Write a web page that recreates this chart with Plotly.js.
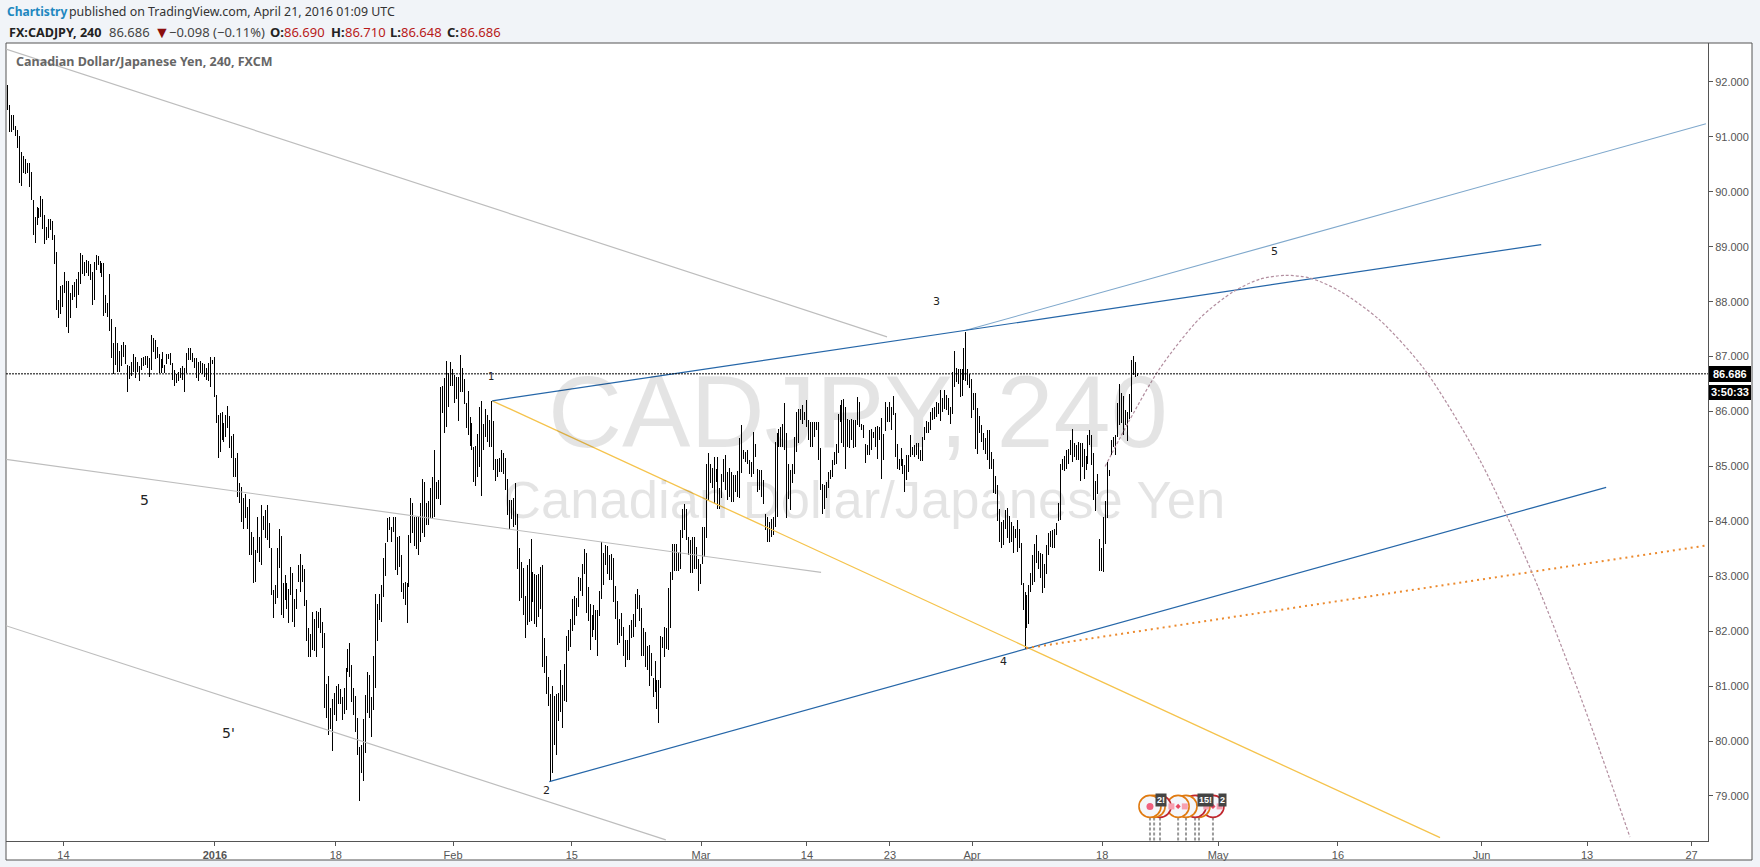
<!DOCTYPE html>
<html>
<head>
<meta charset="utf-8">
<script src="https://cdn.plot.ly/plotly-3.0.1.min.js"></script>
<style>
html,body{margin:0;padding:0;background:#f1f4f8;overflow:hidden}
#chart{width:1760px;height:867px}
.ohlc path{shape-rendering:crispEdges}
</style>
</head>
<body>
<div id="chart"></div>
<script>
// 4-hour bars of CAD/JPY, in order (x is the bar number)
const barHighs = [
91.95,91.58,91.40,91.40,91.20,91.13,91.02,90.73,90.65,90.60,
90.52,90.52,90.36,89.85,89.54,89.72,89.70,89.92,89.87,89.58,
89.36,89.50,89.50,89.47,89.21,88.90,88.03,88.28,88.30,88.54,
88.37,88.37,88.16,88.30,88.36,88.41,88.54,88.89,88.85,88.72,
88.76,88.74,88.68,88.54,88.72,88.85,88.83,88.74,88.70,88.70,
88.12,87.97,88.50,87.68,87.25,87.54,87.25,87.10,87.22,87.27,
87.22,86.85,86.82,86.90,87.05,87.00,86.90,86.82,86.97,87.00,
87.02,87.02,86.97,87.40,87.33,87.30,87.17,87.05,86.95,87.08,
86.84,87.05,87.05,87.07,86.89,86.76,86.68,86.72,86.79,86.82,
86.79,87.07,87.15,87.15,87.07,86.97,86.97,86.90,86.92,86.88,
86.87,86.79,86.88,87.00,86.93,87.00,86.30,85.93,85.97,86.00,
85.80,85.93,86.10,85.92,85.55,85.59,85.15,85.25,84.70,84.62,
84.42,84.50,84.26,84.40,83.80,83.71,83.48,84.08,83.71,84.30,
84.09,84.20,84.30,83.97,83.51,82.75,82.85,83.51,83.87,83.73,
82.87,83.03,82.87,82.76,83.17,83.06,82.59,82.76,83.20,83.40,
83.20,83.14,82.57,82.05,81.95,82.35,82.22,82.36,82.35,82.42,
82.17,81.97,81.03,81.18,80.60,80.77,80.88,81.00,81.03,80.94,
80.80,80.96,81.33,81.67,81.78,81.38,80.96,80.82,80.42,79.90,
79.92,80.40,80.84,81.25,81.20,80.80,81.55,82.67,82.49,82.67,
82.85,83.33,83.60,84.06,84.08,83.90,84.08,84.08,83.71,83.73,
83.38,82.87,82.89,82.87,83.75,84.42,84.33,84.08,84.08,84.08,
84.33,84.77,84.71,84.33,84.37,84.60,84.80,85.30,84.71,84.75,
86.45,86.46,86.61,86.92,86.70,86.90,86.77,86.67,86.63,86.63,
87.03,86.79,86.59,86.15,86.37,85.90,85.79,
85.36,85.37,85.59,86.09,86.19,85.78,86.04,85.94,85.84,86.19,
85.82,85.14,85.13,85.16,85.30,85.24,85.16,84.78,84.39,84.39,
84.42,84.69,84.14,83.52,83.26,83.15,82.64,83.20,83.31,83.67,
83.07,83.05,83.02,83.04,83.17,83.20,81.88,81.54,81.17,80.85,
81.00,80.82,80.85,80.88,81.30,81.02,81.41,81.91,82.02,82.22,
82.58,82.64,82.60,82.98,82.96,83.22,83.49,83.43,82.80,82.49,
82.29,82.47,82.38,82.39,82.73,83.63,83.43,83.57,83.55,83.38,
83.40,83.34,82.82,82.55,82.23,82.33,82.08,81.84,81.84,82.11,
82.21,82.32,82.67,82.76,82.66,82.43,82.05,81.99,81.73,81.75,
81.60,81.14,81.46,81.12,81.11,81.91,81.90,82.08,82.05,82.78,83.08,
83.58,83.58,83.58,83.44,83.85,84.23,84.31,84.23,83.72,83.66,
83.72,83.72,83.54,83.32,83.22,83.89,83.89,85.05,85.25,85.05,
84.98,85.17,84.96,85.17,84.60,84.87,85.14,85.20,84.90,84.98,
84.90,84.84,84.84,84.92,85.51,85.75,85.30,85.27,85.30,85.11,
85.08,85.63,85.41,84.96,84.93,84.93,84.75,84.14,84.08,83.99,
84.05,84.08,85.45,85.60,85.69,85.71,85.78,86.15,85.60,85.05,
84.93,85.05,85.53,86.00,86.04,86.05,86.12,86.00,86.21,85.84,
85.81,85.81,85.81,85.81,85.81,85.33,84.68,84.66,84.72,84.90,
84.93,85.11,85.27,85.40,85.96,86.11,86.21,86.22,86.09,85.87,
85.84,85.87,85.84,85.84,86.26,86.18,85.78,85.75,85.41,85.39,
85.66,85.69,85.63,85.72,85.73,85.72,85.89,85.59,86.18,86.09,
86.18,86.09,86.28,85.98,85.41,85.14,85.33,85.14,85.02,85.21,
85.21,85.57,85.36,85.39,85.42,85.42,
85.30,85.54,85.72,85.82,85.81,85.99,86.07,86.09,86.17,86.15,
86.39,86.24,86.39,86.30,86.24,86.09,86.72,87.10,86.80,86.77,
86.77,86.77,87.15,87.45,86.77,86.69,86.60,86.33,86.34,86.06,
85.92,85.75,85.60,85.51,85.66,85.67,85.27,85.13,84.82,84.66,
84.22,83.99,84.03,84.20,84.25,84.09,83.99,83.91,83.87,84.02,
83.87,83.60,82.87,82.72,82.66,82.84,83.06,83.38,83.59,83.75,
83.46,83.43,83.40,83.23,83.57,83.79,83.83,83.85,83.87,83.97,
84.33,85.05,85.13,85.19,85.30,85.31,85.48,85.69,85.42,85.39,
85.45,85.42,85.42,85.31,85.19,85.57,85.66,85.57,85.24,84.74,
84.86,83.67,83.51,84.08,84.37,85.08,84.93,85.49,85.54,85.57,
86.15,86.51,86.33,86.28,86.03,86.00,86.32,86.94,87.01,86.91,86.71
];
const barLows = [
91.49,91.09,91.09,91.13,91.02,90.80,90.16,90.11,90.34,90.32,
90.34,90.09,89.85,89.21,89.07,89.39,89.52,89.54,89.32,89.05,
89.12,89.16,89.30,89.12,88.68,87.85,87.70,87.77,87.90,88.16,
87.54,87.43,87.70,88.03,88.08,87.88,88.12,88.32,88.50,88.47,
88.52,88.47,88.39,87.94,88.03,88.58,88.67,88.52,88.45,87.74,
87.79,87.72,87.46,86.97,86.68,86.85,86.72,86.72,86.82,87.00,
86.87,86.35,86.60,86.65,86.72,86.61,86.72,86.55,86.75,86.82,
86.85,86.79,86.63,86.75,87.08,86.95,86.97,86.70,86.70,86.79,
86.70,86.87,86.95,86.85,86.58,86.46,86.52,86.55,86.61,86.58,
86.35,86.70,86.93,86.93,86.90,86.79,86.61,86.55,86.70,86.68,
86.63,86.58,86.55,86.45,86.87,86.27,85.80,85.15,85.26,85.48,
85.44,85.53,85.70,85.33,85.15,84.80,84.80,84.44,84.33,83.98,
83.87,84.06,83.87,83.38,83.38,82.87,82.89,83.42,83.26,83.20,
83.84,83.69,83.66,83.51,82.66,82.24,82.50,82.61,83.15,82.30,
82.24,82.57,82.40,82.15,82.66,82.17,82.08,82.40,82.89,82.71,
82.89,82.45,81.82,81.53,81.53,81.66,81.64,81.53,82.05,81.97,
81.69,80.60,80.42,80.11,80.22,79.82,80.47,80.37,80.67,80.67,
80.38,80.49,80.56,81.25,81.16,80.71,80.47,80.16,79.74,78.90,
79.41,79.28,79.78,80.51,80.42,80.07,80.56,80.96,81.82,82.20,
82.17,82.62,83.00,83.62,83.84,83.62,83.80,83.11,83.02,83.17,
82.71,82.58,82.47,82.15,82.80,83.60,83.78,83.56,83.49,83.38,
83.62,83.78,83.71,83.93,83.93,84.06,84.06,84.08,84.40,84.40,
84.30,85.97,85.60,85.72,86.08,86.47,86.47,86.16,86.23,85.83,
86.35,86.35,86.13,85.70,85.57,85.37,85.30,
84.72,84.64,84.80,84.99,84.46,85.30,85.54,85.45,85.36,85.36,
84.93,84.74,84.81,84.90,84.90,84.87,84.57,84.11,83.87,84.05,
83.90,83.93,83.13,82.55,82.61,82.29,81.88,82.11,82.17,82.19,
82.53,82.14,82.08,82.26,82.41,81.34,81.23,80.86,80.64,79.26,
79.42,79.92,79.74,80.37,80.53,80.24,80.73,80.71,81.64,81.71,
82.01,82.11,82.27,82.44,82.73,82.64,83.04,82.33,82.19,81.65,
81.90,82.02,81.84,81.54,82.27,82.58,82.84,83.20,83.04,82.93,
82.93,82.53,82.23,81.75,81.79,81.91,81.54,81.34,81.48,81.48,
81.87,81.90,82.08,82.41,82.19,81.54,81.54,81.35,81.30,81.00,
81.18,80.80,80.90,80.59,80.32,80.97,81.70,81.53,81.68,81.65,82.05,
82.94,83.10,83.10,83.10,83.14,83.69,83.85,83.66,83.38,83.06,
83.06,83.14,83.14,82.73,82.86,83.22,83.35,83.69,84.39,84.69,
84.60,84.32,84.72,84.23,84.23,84.42,84.72,84.57,84.39,84.45,
84.36,84.36,84.54,84.45,84.43,84.88,85.14,85.08,85.05,84.87,
84.81,84.87,85.17,84.54,84.57,84.45,84.32,83.84,83.63,83.63,
83.72,83.75,83.90,84.08,85.36,85.36,85.36,85.30,84.06,84.40,
84.20,84.69,84.87,85.27,85.42,85.85,85.78,85.85,85.72,85.48,
85.36,85.36,85.54,85.66,85.11,84.57,84.14,84.23,84.42,84.60,
84.78,84.81,85.03,85.05,85.24,85.81,85.42,85.36,84.96,85.36,
85.33,85.48,85.33,85.36,85.75,85.71,85.67,85.51,85.07,85.20,
85.20,85.30,85.51,85.36,85.14,85.48,84.78,85.11,85.65,85.81,
85.81,85.66,85.93,85.17,84.96,84.93,85.00,84.87,84.54,84.75,
84.90,85.17,85.21,85.17,85.21,85.14,
85.10,85.10,85.48,85.60,85.60,85.67,85.84,85.87,85.90,85.96,
85.83,86.00,86.04,86.03,85.93,85.78,85.96,86.45,86.54,86.51,
86.27,86.28,86.57,86.56,86.48,86.42,85.89,86.03,85.31,85.22,
85.61,85.45,85.30,85.22,85.11,84.96,84.96,84.51,84.50,84.00,
83.63,83.51,83.57,83.87,83.69,83.61,83.63,83.42,83.69,83.45,
83.51,82.84,82.38,81.68,82.05,82.14,82.72,82.84,82.90,83.25,
83.14,82.96,82.70,82.78,83.05,83.38,83.54,83.51,83.51,83.75,
84.01,84.02,84.93,84.92,84.95,85.05,85.21,85.08,85.18,85.11,
85.11,84.74,84.99,84.78,84.93,85.05,85.39,85.02,84.39,84.19,
84.50,83.10,83.10,83.08,83.59,84.07,84.82,85.20,85.36,85.20,
85.54,85.75,85.80,85.57,85.75,85.47,85.86,86.00,86.66,86.63,86.65
];
const lastPrice = 86.686;

// tick labels
const yTicks = [79,80,81,82,83,84,85,86,87,88,89,90,91,92];
const xTickBars = [28.4,105.4,166.8,226.4,286.7,352.4,406.2,448.4,490.1,556.2,615.1,676,749,802.6,855.7];
const xTickLabels = ['14','<b>2016</b>','18','Feb','15','Mar','14','23','Apr','18','May','16','Jun','13','27'];

// drawn trend lines [bar number, price]
const greyLineA = {x:[-0.8,446.9], y:[92.60,87.36]};
const greyLineB = {x:[-0.8,413.4], y:[85.13,83.07]};
const greyLineC = {x:[-0.8,334.5], y:[82.10,78.20]};
const blueUpper = {x:[246.3,779.3], y:[86.195,89.04]};
const blueLight = {x:[487.0,863], y:[87.48,91.24]};
const blueLower = {x:[275.3,812.3], y:[79.26,84.62]};
const yellowLine = {x:[246.3,727.9], y:[86.195,78.24]};
const orangeDots = {x:[517.6,863], y:[81.69,83.56]};
const arcBars = [557.7,570.4,585.6,605.9,623.2,636.4,649.1,661.8,677.1,697.4,720.3,748.2,774.6,799.0,824.4];
const arcPrices = [85.0,85.86,86.79,87.70,88.19,88.41,88.48,88.43,88.19,87.66,86.75,85.11,83.07,80.83,78.25];

// wave labels
const waveText = ['1','2','3','4','5','5',"5'"];
const waveBars = [245.7,274,472,506,643.6,69.4,112.5];
const wavePrices = [86.63,79.10,88.01,81.44,88.92,84.39,80.14];
const waveSizes = [10,11,11,11,11,14,14];

// economic event markers, back to front
const eventBars = [612.5,605.4,603.4,598.8,594.8,585.6,582.6,580.5];
const eventRings = ['#c0262d','#e07a10','#c0262d','#e07a10','#e07a10','#c0262d','#e07a10','#e07a10'];
const eventY = 78.81;
const flagBars = [594.8,612.5];

const W=1760,H=867,L=6,R=1708,T=43,B=841;
const px = x => (x-L)/(R-L);
const py = y => (B-y)/(B-T);
const xRange = [-0.76,864.04];
const yRange = [78.18,92.71];
const barIdx = barHighs.map((_,i)=>i);

function line(o,color,width,dash,extra){
  return Object.assign({type:'scatter',mode:'lines',x:o.x,y:o.y,hoverinfo:'skip',showlegend:false,
    line:{color:color,width:width,dash:dash||'solid'}},extra||{});
}
const stemX=[],stemY=[];
eventBars.forEach(b=>{stemX.push(b,b,null);stemY.push(78.61,78.19,null);});

const traces = [
  {type:'ohlc',x:barIdx,open:barLows,high:barHighs,low:barLows,close:barHighs,tickwidth:0,
   increasing:{line:{color:'#000',width:1}},decreasing:{line:{color:'#000',width:1}},showlegend:false,hoverinfo:'skip'},
  line(greyLineA,'#bdbdbd',1.2),
  line(greyLineB,'#bdbdbd',1.2),
  line(greyLineC,'#bdbdbd',1.2),
  line(yellowLine,'#f5c34c',1.3),
  line(blueLight,'#7fa8cc',1.1),
  line(blueUpper,'#2566a8',1.2),
  line(blueLower,'#2566a8',1.2),
  line(orangeDots,'#ec8a2e',2,'2px,4px'),
  line({x:arcBars,y:arcPrices},'#b38fa0',1.2,'3px,2px',{line:{color:'#b38fa0',width:1.2,dash:'3px,2px',shape:'spline',smoothing:0.8}}),
  line({x:[xRange[0],xRange[1]],y:[lastPrice,lastPrice]},'#000',1,'2px,1px'),
  line({x:stemX,y:stemY},'#9a9a9a',2,'3px,2px'),
  {type:'scatter',mode:'markers',x:eventBars,y:eventBars.map(()=>eventY),hoverinfo:'skip',showlegend:false,cliponaxis:false,
   marker:{size:22,color:'#f4f6fb',line:{color:eventRings,width:1.6}}},
  {type:'scatter',mode:'markers',x:[580.5],y:[eventY],hoverinfo:'skip',showlegend:false,
   marker:{size:7,color:'#f0607f'}},
  {type:'scatter',mode:'markers',x:flagBars.flatMap(b=>[b-3.4,b+3.4]),y:[eventY,eventY,eventY,eventY],hoverinfo:'skip',showlegend:false,
   marker:{size:6,color:'#f7a0b0',symbol:'square'}},
  {type:'scatter',mode:'markers',x:flagBars,y:[eventY,eventY],hoverinfo:'skip',showlegend:false,
   marker:{size:4,color:'#e8455f',symbol:'diamond'}}
];

const chromeText = (x,y,text,size,color,extra)=>Object.assign({xref:'paper',yref:'paper',x:px(x),y:py(y),text:text,showarrow:false,
  xanchor:'left',yanchor:'middle',font:{family:'"Noto Sans",sans-serif',size:size,color:color}},extra||{});
const annotations = [
  chromeText(858,411,'CADJPY, 240',102.6,'rgba(0,0,0,0.105)',{xanchor:'center',font:{family:'"Liberation Sans",Arial',size:102.6,color:'rgba(0,0,0,0.105)'}}),
  chromeText(864,500,'Canadian Dollar/Japanese Yen',52.6,'rgba(0,0,0,0.105)',{xanchor:'center',font:{family:'"Liberation Sans",Arial',size:52.6,color:'rgba(0,0,0,0.105)'}}),
  chromeText(5,12,'<b>Chartistry</b>',12,'#1e88c0'),
  chromeText(67,12,'published on TradingView.com, April 21, 2016 01:09 UTC',12.4,'#333'),
  chromeText(6.5,32,'<b>FX:CADJPY, 240</b>',12.6,'#222'),
  chromeText(107,32,'86.686',13,'#444'),
  chromeText(152,32,'▼',16,'#8b0f0f'),
  chromeText(167,32,'−0.098 (−0.11%)',13,'#444'),
  chromeText(268,32,'<b>O:</b>',13,'#222'),
  chromeText(282,32,'86.690',13,'#b81a1a'),
  chromeText(329,32,'<b>H:</b>',13,'#222'),
  chromeText(343,32,'86.710',13,'#b81a1a'),
  chromeText(388,32,'<b>L:</b>',13,'#222'),
  chromeText(399,32,'86.648',13,'#b81a1a'),
  chromeText(445,32,'<b>C:</b>',13,'#222'),
  chromeText(458,32,'86.686',13,'#b81a1a'),
  chromeText(14,61,'<b>Canadian Dollar/Japanese Yen, 240, FXCM</b>',12.5,'#666'),
  chromeText(1730,374,'<b>86.686</b>',11,'#fff',{xanchor:'center',font:{family:'"Liberation Sans",Arial',size:11,color:'#fff'}}),
  chromeText(1730,392,'<b>3:50:33</b>',11,'#fff',{xanchor:'center',font:{family:'"Liberation Sans",Arial',size:11,color:'#fff'}})
];
waveText.forEach((t,i)=>annotations.push({x:waveBars[i],y:wavePrices[i],text:t,showarrow:false,
  font:{family:'"DejaVu Sans"',size:waveSizes[i],color:'#222'}}));
[[586.1,'2!'],[608.5,'15!'],[617.4,'2']].forEach(e=>annotations.push({x:e[0],y:78.92,text:'<b>'+e[1]+'</b>',showarrow:false,
  bgcolor:'#444',borderpad:1,font:{family:'"Liberation Sans",Arial',size:9,color:'#fff'}}));

const layout = {
  width:W,height:H,margin:{l:L,r:W-R,t:T,b:H-B,pad:0},autosize:false,
  paper_bgcolor:'#f1f4f8',plot_bgcolor:'#fff',showlegend:false,dragmode:false,
  xaxis:{type:'linear',range:xRange,tickmode:'array',tickvals:xTickBars,ticktext:xTickLabels,
    showgrid:false,zeroline:false,showline:true,linecolor:'#555',linewidth:1,ticks:'outside',ticklen:4,tickcolor:'#555',
    tickfont:{family:'"Liberation Sans",Arial',size:11,color:'#555'},rangeslider:{visible:false},fixedrange:true,tickangle:0},
  yaxis:{range:yRange,side:'right',tickmode:'array',tickvals:yTicks,ticktext:yTicks.map(v=>v.toFixed(3)),
    showgrid:false,zeroline:false,showline:true,linecolor:'#555',linewidth:1,ticks:'outside',ticklen:4,tickcolor:'#555',
    tickfont:{family:'"Liberation Sans",Arial',size:11,color:'#555'},fixedrange:true},
  shapes:[
    {type:'rect',xref:'paper',yref:'paper',x0:px(6),x1:px(1752),y0:py(860),y1:py(43),fillcolor:'#fff',line:{color:'#555',width:1},layer:'below'},
    {type:'rect',xref:'paper',yref:'paper',x0:px(1709),x1:px(1751),y0:py(382),y1:py(366),fillcolor:'#000',line:{width:0}},
    {type:'rect',xref:'paper',yref:'paper',x0:px(1709),x1:px(1751),y0:py(400),y1:py(385),fillcolor:'#000',line:{width:0}}
  ],
  annotations:annotations
};
Plotly.newPlot('chart',traces,layout,{displayModeBar:false,staticPlot:true});
</script>
</body>
</html>
